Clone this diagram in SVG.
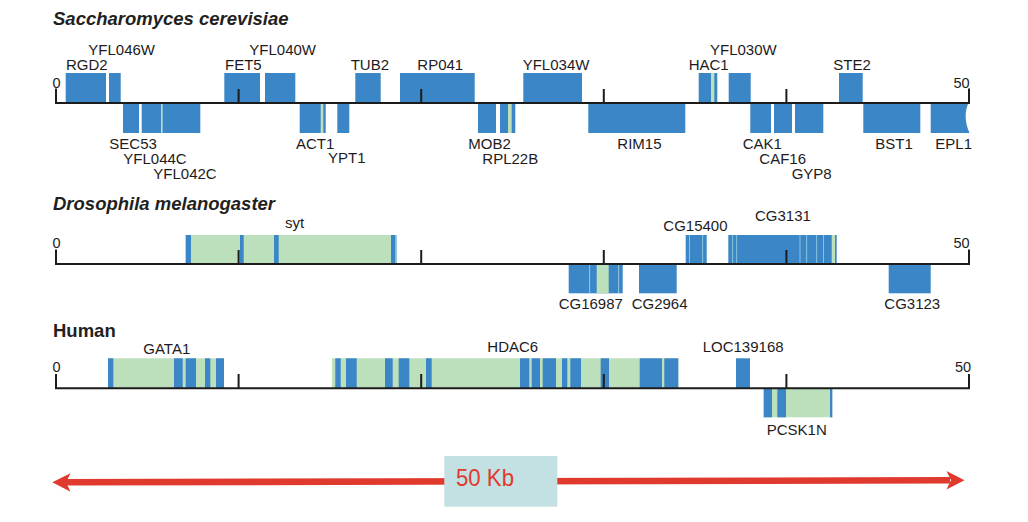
<svg xmlns="http://www.w3.org/2000/svg" width="1028" height="522" viewBox="0 0 1028 522">
<style>
.b{fill:#3b86c7}
.g{fill:#bcdfbc}
.l{fill:#9bd2e4}
.ax{stroke:#1c1c1c;stroke-width:2;fill:none}
.lbl{font-family:"Liberation Sans",Arial,sans-serif;font-size:15px;fill:#1e1b1c}
.num{font-family:"Liberation Sans",Arial,sans-serif;font-size:14.5px;fill:#1e1b1c}
.ttl{font-family:"Liberation Sans",Arial,sans-serif;font-size:18.5px;font-weight:bold;fill:#231f20}
.it{font-style:italic}
.red{fill:#e03a2f}
</style>
<rect width="1028" height="522" fill="#ffffff"/>

<!-- ================= Yeast ================= -->
<g id="yeast-track">
<text class="ttl it" x="53" y="25">Saccharomyces cerevisiae</text>
<g id="RGD2"><rect class="b" x="65.7" y="73" width="40.3" height="30"/><text class="lbl" x="66" y="70">RGD2</text></g>
<g id="YFL046W"><rect class="b" x="109" y="73" width="11.7" height="30"/><text class="lbl" x="88.3" y="54.5">YFL046W</text></g>
<g id="FET5"><rect class="b" x="224.3" y="73" width="35.7" height="30"/><text class="lbl" x="225" y="70">FET5</text></g>
<g id="YFL040W"><rect class="b" x="265" y="73" width="30.3" height="30"/><text class="lbl" x="249.3" y="54.5">YFL040W</text></g>
<g id="TUB2"><rect class="b" x="355.3" y="73" width="25.4" height="30"/><text class="lbl" x="350.7" y="69.5">TUB2</text></g>
<g id="RP041"><rect class="b" x="400" y="73" width="74.7" height="30"/><text class="lbl" x="417.3" y="69.5">RP041</text></g>
<g id="YFL034W"><rect class="b" x="523.3" y="73" width="58.7" height="30"/><text class="lbl" x="522.7" y="69.5">YFL034W</text></g>
<g id="HAC1"><rect class="b" x="698.7" y="73" width="18.6" height="30"/><rect class="g" x="711" y="73" width="3.3" height="30"/><text class="lbl" x="688.7" y="70">HAC1</text></g>
<g id="YFL030W"><rect class="b" x="728.7" y="73" width="22" height="30"/><text class="lbl" x="710" y="55">YFL030W</text></g>
<g id="STE2"><rect class="b" x="839" y="73" width="23.7" height="30"/><text class="lbl" x="833.3" y="70">STE2</text></g>

<g id="SEC53"><rect class="b" x="123" y="103" width="16" height="30"/><text class="lbl" x="109.3" y="148.7">SEC53</text></g>
<g id="YFL044C"><rect class="b" x="141.7" y="103" width="19.6" height="30"/><text class="lbl" x="123.3" y="163.5">YFL044C</text></g>
<g id="YFL042C"><rect class="b" x="162.3" y="103" width="38" height="30"/><rect class="g" x="161.3" y="103" width="1" height="30"/><text class="lbl" x="153.3" y="179">YFL042C</text></g>
<g id="ACT1"><rect class="b" x="299.7" y="103" width="26" height="30"/><rect class="g" x="320.7" y="103" width="2.6" height="30"/><text class="lbl" x="296" y="148.7">ACT1</text></g>
<g id="YPT1"><rect class="b" x="337.3" y="103" width="12" height="30"/><text class="lbl" x="328" y="163">YPT1</text></g>
<g id="MOB2"><rect class="b" x="478" y="103" width="18" height="30"/><text class="lbl" x="468.3" y="148.7">MOB2</text></g>
<g id="RPL22B"><rect class="b" x="500" y="103" width="15.3" height="30"/><rect class="g" x="508" y="103" width="3.7" height="30"/><text class="lbl" x="482.3" y="164">RPL22B</text></g>
<g id="RIM15"><rect class="b" x="588.3" y="103" width="97" height="30"/><text class="lbl" x="617.3" y="148.7">RIM15</text></g>
<g id="CAK1"><rect class="b" x="750.3" y="103" width="20.7" height="30"/><text class="lbl" x="742.7" y="148.7">CAK1</text></g>
<g id="CAF16"><rect class="b" x="774" y="103" width="18" height="30"/><text class="lbl" x="759.3" y="163.5">CAF16</text></g>
<g id="GYP8"><rect class="b" x="795" y="103" width="28.3" height="30"/><text class="lbl" x="791.7" y="179">GYP8</text></g>
<g id="BST1"><rect class="b" x="863.3" y="103" width="57" height="30"/><text class="lbl" x="875.3" y="148.7">BST1</text></g>
<g id="EPL1"><path class="b" d="M930.7,103 L968.5,103 C965,110 964,121 969.5,133 L930.7,133 Z"/><text class="lbl" x="935.3" y="148.7">EPL1</text></g>
</g>

<!-- ================= Drosophila ================= -->
<g id="fly-track">
<text class="ttl it" x="53" y="209.5">Drosophila melanogaster</text>
<g id="syt">
<rect class="g" x="185.7" y="235" width="211" height="29"/>
<rect class="b" x="185.7" y="235" width="5.3" height="29"/>
<rect class="b" x="240" y="235" width="3.7" height="29"/>
<rect class="b" x="274" y="235" width="4.7" height="29"/>
<rect class="b" x="391" y="235" width="4.3" height="29"/>
<rect fill="#7dbde6" x="395.3" y="235" width="1.4" height="29"/>
<text class="lbl" x="285" y="228.3">syt</text>
</g>
<g id="CG15400">
<rect class="b" x="685.7" y="235" width="21" height="29"/>
<rect class="l" x="689" y="235" width="0.8" height="29"/>
<rect class="l" x="702.3" y="235" width="0.8" height="29"/>
<text class="lbl" x="663.3" y="230.7">CG15400</text>
</g>
<g id="CG3131">
<rect class="b" x="728.3" y="235" width="108.4" height="29"/>
<rect class="l" x="732.3" y="235" width="0.8" height="29"/>
<rect class="l" x="736.3" y="235" width="0.8" height="29"/>
<rect class="l" x="799.6" y="235" width="0.8" height="29"/>
<rect class="l" x="806.3" y="235" width="0.8" height="29"/>
<rect class="l" x="816.3" y="235" width="0.8" height="29"/>
<rect class="l" x="823" y="235" width="0.8" height="29"/>
<rect class="g" x="831.7" y="235" width="3.3" height="29"/>
<text class="lbl" x="755" y="220.7">CG3131</text>
</g>
<g id="CG16987">
<rect class="b" x="568.7" y="264" width="54" height="29.3"/>
<rect class="g" x="596.7" y="264" width="12" height="29.3"/>
<rect class="l" x="589.2" y="264" width="0.9" height="29.3"/>
<rect class="l" x="618.2" y="264" width="0.9" height="29.3"/>
<text class="lbl" x="558.7" y="309.3">CG16987</text>
</g>
<g id="CG2964"><rect class="b" x="639" y="264" width="37.7" height="29.3"/><text class="lbl" x="631.7" y="309.3">CG2964</text></g>
<g id="CG3123"><rect class="b" x="888.7" y="264" width="42" height="29.3"/><text class="lbl" x="884.3" y="309.3">CG3123</text></g>
</g>

<!-- ================= Human ================= -->
<g id="human-track">
<text class="ttl" x="53" y="337">Human</text>
<g id="GATA1">
<rect class="g" x="108" y="358.3" width="116" height="30"/>
<rect class="b" x="108" y="358.3" width="5.3" height="30"/>
<rect class="b" x="174" y="358.3" width="8.7" height="30"/>
<rect class="b" x="185.7" y="358.3" width="10.3" height="30"/>
<rect class="b" x="205" y="358.3" width="5.3" height="30"/>
<rect class="b" x="216" y="358.3" width="8" height="30"/>
<text class="lbl" x="143.3" y="354.3">GATA1</text>
</g>
<g id="HDAC6">
<rect class="g" x="332" y="358.3" width="346.3" height="30"/>
<rect class="b" x="335.3" y="358.3" width="5.4" height="30"/>
<rect class="b" x="346" y="358.3" width="10.7" height="30"/>
<rect class="b" x="385" y="358.3" width="7.7" height="30"/>
<rect class="b" x="398.7" y="358.3" width="10.6" height="30"/>
<rect class="b" x="426" y="358.3" width="5.7" height="30"/>
<rect class="b" x="520" y="358.3" width="9.3" height="30"/>
<rect class="b" x="531.7" y="358.3" width="8.3" height="30"/>
<rect class="b" x="542.7" y="358.3" width="13.3" height="30"/>
<rect class="b" x="562" y="358.3" width="5.3" height="30"/>
<rect class="b" x="570.3" y="358.3" width="10.7" height="30"/>
<rect class="b" x="600.7" y="358.3" width="8.3" height="30"/>
<rect class="b" x="639.7" y="358.3" width="22.3" height="30"/>
<rect class="b" x="664.3" y="358.3" width="14" height="30"/>
<text class="lbl" x="487.3" y="352.3">HDAC6</text>
</g>
<g id="LOC139168"><rect class="b" x="736" y="358.3" width="14" height="30"/><text class="lbl" x="702.7" y="352.3">LOC139168</text></g>
<g id="PCSK1N">
<rect class="g" x="763.7" y="388.3" width="68.6" height="29"/>
<rect class="b" x="763.7" y="388.3" width="8.3" height="29"/>
<rect class="b" x="777.3" y="388.3" width="8.7" height="29"/>
<rect class="b" x="830" y="388.3" width="2.3" height="29"/>
<text class="lbl" x="766.7" y="435">PCSK1N</text>
</g>
</g>

<!-- ================= Axes ================= -->
<g id="axes">
<path class="ax" d="M56,103 H969.5 M56,88.5 V104 M238.6,89 V103 M421.2,89 V103 M603.8,89 V103 M786.4,89 V103 M969,88.5 V104"/>
<text class="num" x="52.5" y="87.5">0</text>
<text class="num" x="953.5" y="87.5">50</text>
<path class="ax" d="M56,264 H969.5 M56,249.5 V265 M238.6,250 V264 M421.2,250 V264 M603.8,250 V264 M786.4,250 V264 M969,249.5 V265"/>
<text class="num" x="52.5" y="247.5">0</text>
<text class="num" x="953.5" y="247.5">50</text>
<path class="ax" d="M56,388.3 H969.5 M56,374 V389.3 M238.6,374 V388.3 M421.2,374 V388.3 M603.8,374 V388.3 M786.4,374 V388.3 M969,374 V389.3"/>
<text class="num" x="52.5" y="371.5">0</text>
<text class="num" x="955" y="371.5">50</text>
</g>

<!-- ================= Scale bar ================= -->
<g id="connectors">
<polygon class="red" points="64,479 950,477 950,483.6 64,485.6"/>
<polygon class="red" points="52.3,482.2 70.5,473.3 66,482.2 70.5,491.7"/>
<polygon class="red" points="964.5,480.3 946.5,471 951,480.3 946.5,489.5"/>
</g>
<g id="scale-label">
<rect x="444.3" y="456" width="113" height="50.7" fill="#c3e0e3"/>
<text x="456" y="486" font-family="'Liberation Sans',Arial,sans-serif" font-size="24" fill="#e03a2f" textLength="58" lengthAdjust="spacingAndGlyphs">50 Kb</text>
</g>
</svg>
